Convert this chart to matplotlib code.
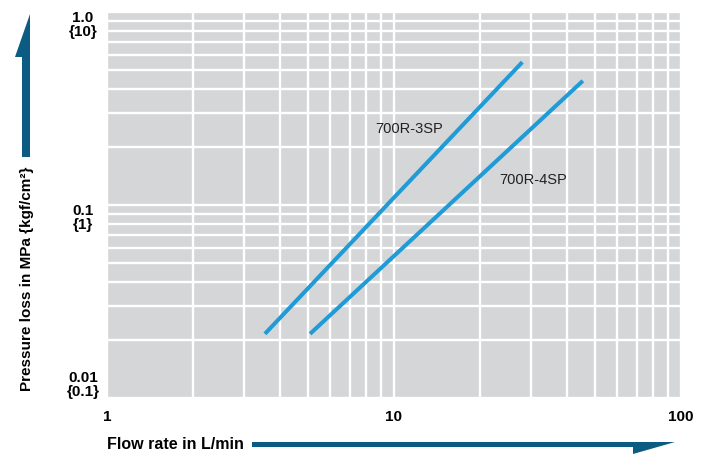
import matplotlib.pyplot as plt
import matplotlib.transforms as mtrans
from matplotlib.patches import Polygon

# data (flow L/min, pressure loss MPa)
flow_3sp = [3.55, 28.0]
loss_3sp = [0.0215, 0.55]
flow_4sp = [5.1, 45.5]
loss_4sp = [0.0215, 0.44]

x_ticks = [1, 10, 100]
x_labels = ['1', '10', '100']
y_ticks = [1.0, 0.1, 0.01]
y_labels = ['1.0\n{10}', '0.1\n{1}', '0.01\n{0.1}']

label_3sp = ('700R-3SP', 11.3, 0.25)
label_4sp = ('700R-4SP', 30.5, 0.137)

W, H = 705, 456
plt.rcParams['font.family'] = ['Liberation Sans', 'DejaVu Sans']

fig = plt.figure(figsize=(W / 100, H / 100), dpi=100)
# axes box in pixels: left 107, right 681, top 13, bottom 399
ax = fig.add_axes([107 / W, 1 - 399 / H, (681 - 107) / W, (399 - 13) / H])
ax.set_facecolor('#d4d6d7')
ax.set_xscale('log')
ax.set_yscale('log')
ax.set_xlim(1, 100)
ax.set_ylim(0.01, 1.0)
ax.grid(which='both', color='white', lw=1.7)
ax.set_axisbelow(True)
for s in ax.spines.values():
    s.set_visible(False)
ax.tick_params(which='both', length=0)

line_col = '#1f9bd7'
ax.plot(flow_3sp, loss_3sp, color=line_col, lw=2.9, solid_capstyle='butt')
ax.plot(flow_4sp, loss_4sp, color=line_col, lw=2.9, solid_capstyle='butt')

for txt, x, y in (label_3sp, label_4sp):
    ax.text(x, y, txt, fontsize=10.5, color='#222222', ha='center', va='center')

ax.set_xticks(x_ticks)
ax.set_xticklabels(x_labels, fontsize=11, fontweight='bold')
ax.tick_params(axis='x', pad=8)
ax.set_yticks(y_ticks)
ax.set_yticklabels([])
ax.minorticks_on()
ax.tick_params(which='minor', labelbottom=False, labelleft=False)

# y tick labels: two lines, centred, top ones hang from the tick
tr = mtrans.blended_transform_factory(fig.transFigure, ax.transData)
for val, lab in zip(y_ticks, y_labels):
    va = 'bottom' if val == min(y_ticks) else 'top'
    yy = val * (1.0 if va == 'bottom' else 1.02)
    ax.text(83 / W, yy, lab, transform=tr, ha='center', va=va, ma='center',
            fontsize=11, fontweight='bold', linespacing=1.0)

arrow_col = '#0b5b82'


def px(x, y):
    return (x / W, 1 - y / H)


# vertical arrow with one-sided head
up = [px(22, 158), px(22, 58), px(15, 58), px(30, 15), px(30, 158)]
fig.patches.append(Polygon(up, closed=True, transform=fig.transFigure,
                           facecolor=arrow_col, edgecolor='none'))
# horizontal arrow with one-sided head
right = [px(252, 443), px(675, 443), px(633, 455), px(633, 448), px(252, 448)]
fig.patches.append(Polygon(right, closed=True, transform=fig.transFigure,
                           facecolor=arrow_col, edgecolor='none'))

fig.text(27 / W, 1 - 279 / H, 'Pressure loss in MPa {kgf/cm²}', rotation=90,
         ha='center', va='center', fontsize=11, fontweight='bold')
fig.text(107 / W, 1 - 445 / H, 'Flow rate in L/min', ha='left', va='center',
         fontsize=11.5, fontweight='bold')

fig.savefig('out.png', dpi=100)
